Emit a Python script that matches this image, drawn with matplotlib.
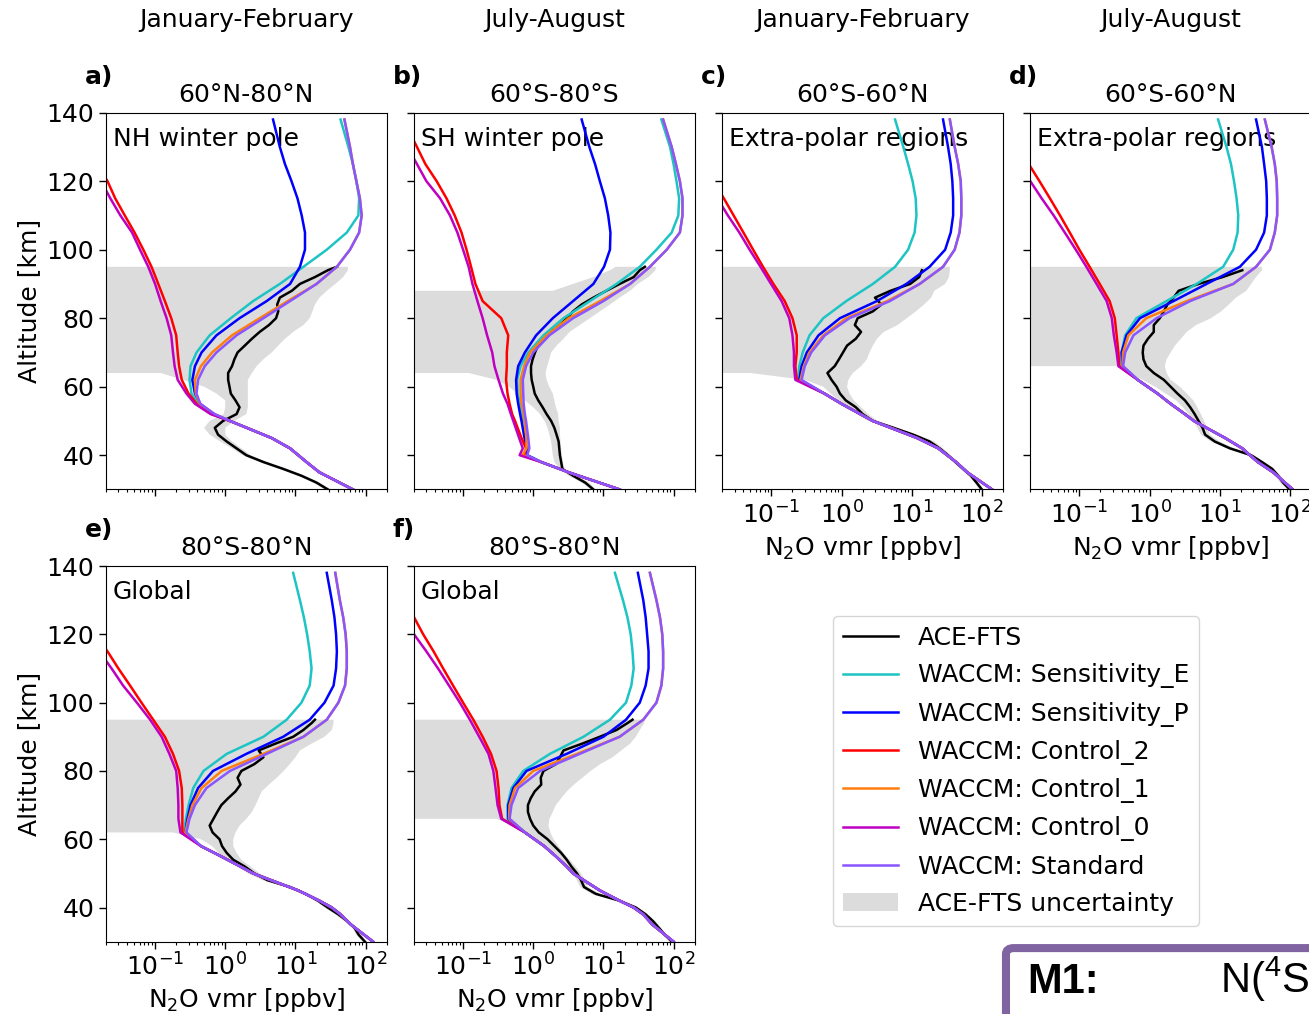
import matplotlib.pyplot as plt
from matplotlib.patches import FancyBboxPatch
from matplotlib.ticker import LogLocator, NullFormatter

plt.rcParams['font.family'] = 'DejaVu Sans'
plt.rcParams['font.size'] = 18
plt.rcParams['mathtext.default'] = 'regular'

# altitude grids [km]
z_model = [30, 35, 38, 40, 42, 45, 50, 52, 55, 58, 62, 66, 70, 75, 80, 85, 90, 95,
           100, 105, 110, 115, 120, 125, 130, 138]
z_ace = [30, 32, 34, 36, 38, 40, 42, 44, 46, 48, 50, 52, 54, 56, 58, 60, 62, 64, 66,
         68, 70, 72, 74, 76, 78, 80, 82, 84, 86, 88, 90, 92, 94, 95]
nan = float('nan')

# ---- panel a: 60N-80N, Jan-Feb ----
a_ace = [29, 20, 12.2, 6.7, 3.5, 2.0, 1.45, 1.05, 0.79, 0.71, 0.93, 1.45, 1.6, 1.4, 1.2, 1.15,
         1.1, 1.1, 1.25, 1.35, 1.5, 1.9, 2.4, 3.1, 4.2, 5.3, 5.7, 5.5, 6.0, 8.9, 11.6, 19, 29, 39]
a_hi = [32, 22, 13.5, 7.5, 4.0, 2.3, 1.7, 1.25, 1.0, 1.0, 1.35, 2.0, 2.1, 2.1, 2.1, 2.1, 2.1,
        2.4, 2.8, 3.5, 4.6, 5.7, 7.1, 9.3, 13, 16, 17.5, 19, 22, 28, 37, 48, 56, 56]
a_lo = [26, 18, 11, 6, 3.1, 1.75, 1.25, 0.85, 0.6, 0.5, 0.6, 0.95, 1.0, 1.0, 0.75, 0.5, 0.25,
        0.12, 0, 0, 0, 0, 0, 0, 0, 0, 0, 0, 0, 0, 0, 0, 0, 0]
a_low = [66, 22, 14.4, 11, 8.4, 4.6, 1.17]
a_se = a_low + [0.66, 0.41, 0.33, 0.31, 0.32, 0.39, 0.6, 1.2, 2.5, 6, 13, 28, 54, 79, 81, 74, 66, 57, 44]
a_sp = a_low + [0.68, 0.44, 0.37, 0.34, 0.37, 0.46, 0.75, 1.6, 3.9, 8.4, 11.6, 13.7, 13.7, 12.3, 10.7,
                8.8, 7.1, 6.0, 4.8]
a_c2 = a_low + [0.64, 0.39, 0.30, 0.24, 0.22, 0.21, 0.20, 0.17, 0.138, 0.111, 0.089, 0.068, 0.051,
                0.037, 0.027, 0.021, 0.015, 0.011, 0.007]
a_c1 = a_low + [0.70, 0.43, 0.38, 0.37, 0.45, 0.65, 1.25, 3.1, 7.8, 20, 39, 60, 81, 88, 83, 74, 66, 60, 50]
a_c0 = a_low + [0.62, 0.37, 0.28, 0.21, 0.19, 0.18, 0.17, 0.146, 0.12, 0.10, 0.08, 0.061, 0.047,
                0.032, 0.023, 0.017, 0.012, 0.009, 0.006]
a_std = a_low + [0.71, 0.44, 0.39, 0.41, 0.51, 0.75, 1.45, 3.5, 8.4, 20, 39, 60, 81, 88, 83, 74, 66, 60, 50]

# ---- panel b: 60S-80S, Jul-Aug ----
b_ace = [7.2, 5.5, 3.7, 2.6, 2.5, 2.4, 2.35, 2.3, 2.15, 2.0, 1.8, 1.55, 1.36, 1.18, 1.05, 1.0,
         0.95, 0.93, 0.93, 0.98, 1.06, 1.17, 1.5, 1.8, 2.4, 3.0, 3.7, 4.9, 7.2, 11, 17, 27, 33, 39]
b_hi = [7.8, 6.2, 4.3, 2.8, 2.65, 2.56, 2.5, 2.45, 2.4, 2.4, 2.3, 2.27, 2.1, 2.0, 1.9, 1.69,
        1.55, 1.5, 1.58, 1.69, 1.8, 2.15, 2.7, 3.3, 4.6, 6.4, 8.9, 12.4, 17, 24, 31, 44, 55, 57]
b_lo = [6.6, 4.9, 3.2, 2.4, 2.0, 1.9, 1.85, 1.8, 1.7, 1.6, 1.45, 1.25, 1.0, 0.76, 0.6, 0.45,
        0.3, 0.12, 0, 0, 0, 0, 0, 0, 0, 0, 0, 0, 0, 1.9, 3.7, 7.2, 12.4, 15]
b_low = [17, 3.2, 1.3]
b_se = b_low + [0.82, 0.80, 0.78, 0.72, 0.69, 0.65, 0.60, 0.59, 0.66, 0.85, 1.4, 2.7, 6.4, 15.4,
                33, 57, 94, 117, 120, 110, 100, 89, 67]
b_sp = b_low + [0.82, 0.80, 0.75, 0.68, 0.65, 0.61, 0.58, 0.57, 0.61, 0.76, 1.1, 1.9, 3.7, 7.2,
                10.2, 12.4, 12.6, 11.7, 10.5, 8.9, 7.6, 6.3, 4.9]
b_c2 = b_low + [0.74, 0.79, 0.68, 0.55, 0.50, 0.46, 0.43, 0.41, 0.42, 0.42, 0.44, 0.35, 0.19,
                0.15, 0.13, 0.112, 0.095, 0.076, 0.058, 0.042, 0.029, 0.022, 0.014]
b_c1 = b_low + [0.70, 0.80, 0.80, 0.75, 0.73, 0.68, 0.66, 0.66, 0.74, 0.90, 1.55, 3.2, 9.0, 24,
                46, 80, 123, 134, 134, 123, 108, 94, 71]
b_c0 = b_low + [0.64, 0.71, 0.63, 0.52, 0.48, 0.43, 0.37, 0.32, 0.28, 0.26, 0.22, 0.19, 0.16,
                0.136, 0.12, 0.10, 0.083, 0.065, 0.047, 0.030, 0.022, 0.016, 0.010]
b_std = b_low + [0.82, 0.88, 0.85, 0.79, 0.76, 0.73, 0.72, 0.71, 0.79, 1.0, 1.7, 3.7, 10, 24,
                 46, 80, 123, 134, 134, 123, 108, 94, 71]

# ---- panel c: 60S-60N, Jan-Feb ----
c_ace = [100, 84, 70, 54, 42, 33, 25, 18, 10.5, 5.5, 2.8, 2.0, 1.6, 1.15, 0.95, 0.85, 0.72,
         0.63, 0.8, 0.92, 1.05, 1.2, 1.6, 1.9, 1.55, 1.7, 2.8, 3.7, 3.0, 5.0, 9.5, 12.8, 14, nan]
c_hi = [105, 90, 75, 60, 46, 36, 28, 21, 12, 6.2, 3.3, 2.4, 1.9, 1.5, 1.3, 1.2, 1.25, 1.45,
        1.9, 2.3, 2.5, 2.8, 3.2, 4.0, 6.3, 8.5, 11.5, 15, 19, 21, 30, 34, 35, 35]
c_lo = [92, 78, 64, 50, 39, 30, 23, 16, 9.5, 4.8, 2.4, 1.7, 1.3, 0.9, 0.7, 0.55, 0.3, 0.05,
        0, 0, 0, 0, 0, 0, 0, 0, 0, 0, 0, 0, 0, 0, 0, 0]
c_low = [140, 62, 43, 32, 24, 12, 2.8, 1.85, 1.0, 0.57]
c_se = c_low + [0.24, 0.25, 0.28, 0.35, 0.55, 1.17, 2.8, 5.8, 8.9, 11, 11.7, 11.4, 10.3, 8.9, 7.6, 5.8]
c_sp = c_low + [0.25, 0.27, 0.32, 0.47, 0.95, 3.2, 8.4, 18, 30, 36, 39, 39, 38, 36, 33, 28]
c_c2 = c_low + [0.23, 0.22, 0.23, 0.23, 0.20, 0.155, 0.107, 0.076, 0.055, 0.040, 0.029, 0.021,
                0.015, 0.011, 0.008, 0.005]
c_c1 = c_low + [0.26, 0.29, 0.35, 0.55, 1.17, 4.5, 13, 28, 41, 48, 51, 51, 50, 46, 41, 35]
c_c0 = c_low + [0.22, 0.21, 0.21, 0.20, 0.18, 0.14, 0.099, 0.070, 0.049, 0.035, 0.024, 0.017,
                0.012, 0.009, 0.006, 0.004]
c_std = c_low + [0.27, 0.30, 0.37, 0.58, 1.3, 4.9, 13, 28, 41, 48, 51, 51, 50, 46, 41, 35]

# ---- panel d: 60S-60N, Jul-Aug ----
d_ace = [100, 80, 68, 56, 40, 28, 14, 8.5, 6.2, 5.7, 5.0, 4.4, 3.8, 3.2, 2.5, 2.0, 1.6, 1.15,
         0.9, 0.82, 0.8, 0.82, 0.95, 1.15, 1.15, 1.4, 1.6, 1.8, 2.2, 2.6, 5.0, 11, 21, nan]
d_hi = [108, 87, 74, 61, 44, 31, 16, 10, 7.3, 6.6, 6.0, 5.4, 4.8, 4.2, 3.4, 2.7, 2.0, 1.75,
        1.65, 1.75, 2.0, 2.3, 2.8, 3.4, 4.6, 7.5, 10.5, 13.5, 17, 24, 28, 33, 40, 40]
d_lo = [92, 73, 62, 51, 36, 25, 12.5, 7.5, 5.4, 4.8, 4.2, 3.6, 3.0, 2.4, 1.7, 1.2, 0.8, 0.5,
        0.38, 0, 0, 0, 0, 0, 0, 0, 0, 0, 0, 0, 0, 0, 0, 0]
d_low = [110, 58, 35, 27, 21, 12, 4.3, 3.2, 2.0, 1.3, 0.68]
d_se = d_low + [0.40, 0.40, 0.45, 0.65, 1.75, 4.7, 11.2, 15.6, 18, 18.4, 17.4, 16, 14.5, 12.5, 9.5]
d_sp = d_low + [0.41, 0.40, 0.47, 0.73, 2.2, 6.5, 19.4, 33, 43, 47, 47, 46, 43, 40, 33]
d_c2 = d_low + [0.37, 0.36, 0.34, 0.32, 0.27, 0.195, 0.14, 0.10, 0.073, 0.053, 0.038, 0.027,
                0.019, 0.014, 0.009]
d_c1 = d_low + [0.41, 0.42, 0.50, 0.90, 3.4, 15.6, 33, 52, 61, 66, 66, 65, 61, 55, 44]
d_c0 = d_low + [0.36, 0.34, 0.31, 0.29, 0.245, 0.176, 0.126, 0.089, 0.062, 0.043, 0.029, 0.020,
                0.014, 0.010, 0.007]
d_std = d_low + [0.42, 0.45, 0.59, 1.26, 3.8, 15.6, 33, 52, 61, 66, 66, 65, 61, 55, 44]

# ---- panel e: 80S-80N, Jan-Feb ----
e_ace = [98, 80, 70, 55, 41, 29, 21, 14, 8.4, 4.0, 2.6, 1.9, 1.3, 1.05, 0.9, 0.83, 0.66, 0.6,
         0.68, 0.77, 0.88, 1.1, 1.4, 1.65, 1.5, 1.7, 2.6, 3.5, 3.0, 5.2, 9.3, 13, 17, 19]
e_hi = [105, 86, 75, 60, 45, 32, 23, 15.5, 9.5, 4.8, 3.1, 2.3, 1.7, 1.45, 1.3, 1.3, 1.4, 1.6,
        2.0, 2.4, 2.7, 3.0, 3.3, 4.2, 5.4, 6.8, 8.3, 10, 11.6, 17, 26, 33, 35, 35]
e_lo = [91, 74, 65, 50, 37, 26, 19, 12.5, 7.4, 3.4, 2.1, 1.5, 1.0, 0.8, 0.65, 0.45, 0.18,
        0, 0, 0, 0, 0, 0, 0, 0, 0, 0, 0, 0, 0, 0, 0, 0, 0]
e_low = [128, 62, 44, 33, 22, 11, 2.5, 1.65, 0.87, 0.45]
e_se = e_low + [0.26, 0.275, 0.30, 0.35, 0.49, 1.05, 3.5, 7.5, 12.2, 16, 17, 16, 14.7, 13.2, 11.6, 9.3]
e_sp = e_low + [0.27, 0.29, 0.32, 0.41, 0.67, 2.0, 6.7, 16, 26, 35, 38, 39, 38, 36, 33, 28]
e_c2 = e_low + [0.245, 0.245, 0.245, 0.24, 0.22, 0.18, 0.138, 0.094, 0.064, 0.044, 0.030, 0.021,
                0.014, 0.010, 0.007, 0.005]
e_c1 = e_low + [0.27, 0.30, 0.34, 0.46, 0.89, 3.5, 13, 28, 41, 51, 54, 54, 52, 48, 43, 37]
e_c0 = e_low + [0.23, 0.215, 0.215, 0.21, 0.20, 0.16, 0.124, 0.085, 0.055, 0.035, 0.024, 0.016,
                0.011, 0.008, 0.006, 0.004]
e_std = e_low + [0.28, 0.31, 0.37, 0.54, 1.17, 3.9, 13, 28, 41, 51, 54, 54, 52, 48, 43, 37]

# ---- panel f: 80S-80N, Jul-Aug ----
f_ace = [95, 75, 62, 51, 40, 29, 17, 7.8, 5.3, 4.8, 4.2, 3.5, 3.0, 2.5, 2.0, 1.6, 1.2, 1.0,
         0.9, 0.84, 0.84, 0.92, 1.05, 1.3, 1.28, 1.4, 2.1, 2.4, 2.7, 5.0, 8.9, 15.4, 22, 26]
f_hi = [100, 80, 67, 55, 43, 32, 19, 9, 6.0, 5.5, 4.8, 4.0, 3.3, 2.7, 2.3, 1.95, 1.75, 1.65,
        1.7, 1.9, 2.1, 2.5, 3.0, 3.8, 5.0, 6.6, 9.0, 13.5, 18, 24, 29, 33, 38, 39]
f_lo = [88, 70, 57, 47, 37, 26, 15, 6.8, 4.7, 4.2, 3.6, 3.0, 2.6, 2.0, 1.5, 1.1, 0.8, 0.5,
        0.3, 0, 0, 0, 0, 0, 0, 0, 0, 0, 0, 0, 0, 0, 0, 0]
f_low = [100, 50, 37, 27, 17, 8.9, 3.7, 3.0, 2.1, 1.43, 0.76]
f_se = f_low + [0.43, 0.43, 0.49, 0.72, 1.73, 5.2, 12.4, 21, 25, 27, 26, 24.5, 22, 19, 14.6]
f_sp = f_low + [0.44, 0.44, 0.52, 0.80, 3.0, 10, 21, 33, 40, 44, 44, 42, 40, 37, 31]
f_c2 = f_low + [0.36, 0.33, 0.32, 0.30, 0.25, 0.19, 0.14, 0.10, 0.072, 0.052, 0.038, 0.027,
                0.020, 0.014, 0.009]
f_c1 = f_low + [0.45, 0.46, 0.55, 1.0, 4.2, 17, 37, 57, 67, 71, 71, 69, 64, 57, 46]
f_c0 = f_low + [0.35, 0.31, 0.29, 0.27, 0.23, 0.17, 0.125, 0.09, 0.063, 0.044, 0.030, 0.020,
                0.014, 0.010, 0.007]
f_std = f_low + [0.46, 0.49, 0.61, 1.25, 4.6, 17, 37, 57, 67, 71, 71, 69, 64, 57, 46]

run_labels = ['WACCM: Sensitivity_E', 'WACCM: Sensitivity_P', 'WACCM: Control_2',
              'WACCM: Control_1', 'WACCM: Control_0', 'WACCM: Standard']
run_colors = ['#1cc4c4', '#0000ff', '#ff0000', '#ff7f0e', '#c000c0', '#8855ff']

panels = [
    ('a)', '60°N-80°N', 'NH winter pole', 'January-February', a_ace, a_lo, a_hi,
     [a_se, a_sp, a_c2, a_c1, a_c0, a_std]),
    ('b)', '60°S-80°S', 'SH winter pole', 'July-August', b_ace, b_lo, b_hi,
     [b_se, b_sp, b_c2, b_c1, b_c0, b_std]),
    ('c)', '60°S-60°N', 'Extra-polar regions', 'January-February', c_ace, c_lo, c_hi,
     [c_se, c_sp, c_c2, c_c1, c_c0, c_std]),
    ('d)', '60°S-60°N', 'Extra-polar regions', 'July-August', d_ace, d_lo, d_hi,
     [d_se, d_sp, d_c2, d_c1, d_c0, d_std]),
    ('e)', '80°S-80°N', 'Global', None, e_ace, e_lo, e_hi,
     [e_se, e_sp, e_c2, e_c1, e_c0, e_std]),
    ('f)', '80°S-80°N', 'Global', None, f_ace, f_lo, f_hi,
     [f_se, f_sp, f_c2, f_c1, f_c0, f_std]),
]

# axes rectangles in figure fraction
rects = [[0.0810, 0.5173, 0.2144, 0.3716], [0.3163, 0.5173, 0.2144, 0.3716],
         [0.5518, 0.5173, 0.2144, 0.3716], [0.7871, 0.5173, 0.2144, 0.3716],
         [0.0810, 0.0713, 0.2144, 0.3705], [0.3163, 0.0713, 0.2144, 0.3705]]
show_ylab = [True, False, False, False, True, False]
show_xlab = [False, False, True, True, True, True]

fig = plt.figure(figsize=(13.09, 10.14), dpi=100)
handles = None

for i, (tag, band, region, season, ace, lo, hi, runs) in enumerate(panels):
    ax = fig.add_axes(rects[i])
    ax.set_xscale('log')
    unc = ax.fill_betweenx(z_ace, lo, hi, color='#dcdcdc', lw=0, zorder=1)
    l_ace, = ax.plot(ace, z_ace, color='k', lw=1.8, zorder=2)
    lines = []
    for vals, col in zip(runs, run_colors):
        ln, = ax.plot(vals, z_model, color=col, lw=1.8, zorder=2)
        lines.append(ln)
    if handles is None:
        handles = [l_ace] + lines + [unc]

    ax.set_xlim(0.02, 200)
    ax.set_ylim(30, 140)
    ax.set_yticks([40, 60, 80, 100, 120, 140])
    ax.xaxis.set_major_locator(LogLocator(base=10, numticks=20))
    ax.xaxis.set_minor_locator(LogLocator(base=10, subs=(2, 3, 4, 5, 6, 7, 8, 9), numticks=20))
    ax.xaxis.set_minor_formatter(NullFormatter())
    ax.tick_params(which='major', length=5, width=1)
    ax.tick_params(which='minor', length=2.5, width=0.8)
    if not show_ylab[i]:
        ax.set_yticklabels([])
    else:
        ax.set_ylabel('Altitude [km]')
    if show_xlab[i]:
        ax.set_xlabel('N$_2$O vmr [ppbv]')
    else:
        ax.tick_params(axis='x', which='both', labelbottom=False)

    ax.set_title(band, pad=8, fontsize=18)
    ax.text(-0.075, 1.095, tag, transform=ax.transAxes, fontweight='bold',
            ha='left', va='center')
    ax.text(0.025, 0.93, region, transform=ax.transAxes, ha='left', va='center', zorder=1)
    if season is not None:
        fig.text(rects[i][0] + rects[i][2] / 2, 0.980, season, ha='center', va='center')

labels = ['ACE-FTS'] + run_labels + ['ACE-FTS uncertainty']
fig.legend(handles, labels, loc='upper left', bbox_to_anchor=(0.6364, 0.3925),
           borderaxespad=0, fontsize=18, handlelength=2.2, labelspacing=0.53, borderpad=0.4)

# partial box from the neighbouring slide
box = FancyBboxPatch((0.7685, -0.2), 0.4, 0.265, transform=fig.transFigure,
                     boxstyle='round,pad=0,rounding_size=0.006', fc='white',
                     ec='#8064a2', lw=5.8)
fig.patches.append(box)
fig.text(0.7846, 0.0207, 'M1:', family='Liberation Sans', fontweight='bold',
         fontsize=30, va='baseline')
fig.text(0.932, 0.0207, 'N($^4$S) + NO', family='Liberation Sans', fontsize=30,
         va='baseline')

fig.savefig('out.png', dpi=100)
